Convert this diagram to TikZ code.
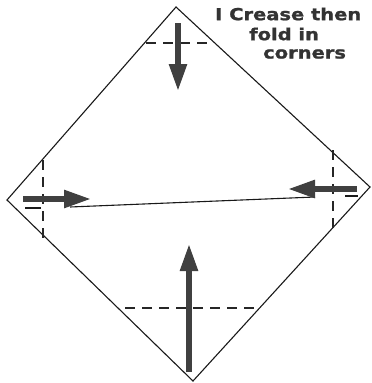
\documentclass[tikz,border=0pt]{standalone}
\usepackage{fontspec}
\setmainfont{DejaVu Sans}
\newfontfamily\lblfont[FakeStretch=1.18,FakeBold=1.2]{DejaVu Sans Bold}
\usetikzlibrary{arrows.meta}
\begin{document}
\begin{tikzpicture}[x=1pt,y=-1pt,
  edge/.style={line width=1.1pt,black!90},
  crease/.style={line width=1.1pt,black!85,dash pattern=on 10pt off 7pt},
  foldarrow/.style={line width=5.5pt,black!75,-{Triangle[length=27pt,width=17pt]}},
  lbl/.style={font=\lblfont\fontsize{16.5}{18}\selectfont,text=black!80,inner sep=0pt}]
\useasboundingbox (0,0) rectangle (372,383);
\coordinate (T) at (176,7);
\coordinate (L) at (7,200);
\coordinate (R) at (370,187);
\coordinate (B) at (193,381);
\draw[edge] (T) -- (R) -- (B) -- (L) -- cycle;
% crease lines
\coordinate (tc1) at (146,43); \coordinate (tc2) at (214,43);
\draw[crease] (tc1) -- (tc2);
\coordinate (bc1) at (125,308); \coordinate (bc2) at (260,308);
\draw[crease] (bc1) -- (bc2);
\coordinate (lc1) at (43,160); \coordinate (lc2) at (43,238);
\draw[crease] (lc1) -- (lc2);
\coordinate (rc1) at (333,150); \coordinate (rc2) at (333,228);
\draw[crease] (rc1) -- (rc2);
% horizontal crease
\coordinate (h0) at (25,208); \coordinate (h1) at (41,208);
\draw[edge] (h0) -- (h1);
\coordinate (h2) at (70,207); \coordinate (h3) at (315,197);
\draw[edge] (h2) -- (h3);
\coordinate (h4) at (345,196); \coordinate (h5) at (358,196);
\draw[edge] (h4) -- (h5);
% arrows
\coordinate (at0) at (178,23); \coordinate (at1) at (178,91);
\draw[foldarrow] (at0) -- (at1);
\coordinate (al0) at (23,199); \coordinate (al1) at (91,199);
\draw[foldarrow] (al0) -- (al1);
\coordinate (ar0) at (357,189); \coordinate (ar1) at (288,189);
\draw[foldarrow] (ar0) -- (ar1);
\coordinate (ab0) at (189,372); \coordinate (ab1) at (189,244);
\draw[foldarrow] (ab0) -- (ab1);
% label
\node[lbl,anchor=west] (l1) at (215,14) {I Crease then};
\node[lbl,anchor=west] (l2) at (249,34) {fold in};
\node[lbl,anchor=west] (l3) at (263,54) {corners};
\end{tikzpicture}
\end{document}
